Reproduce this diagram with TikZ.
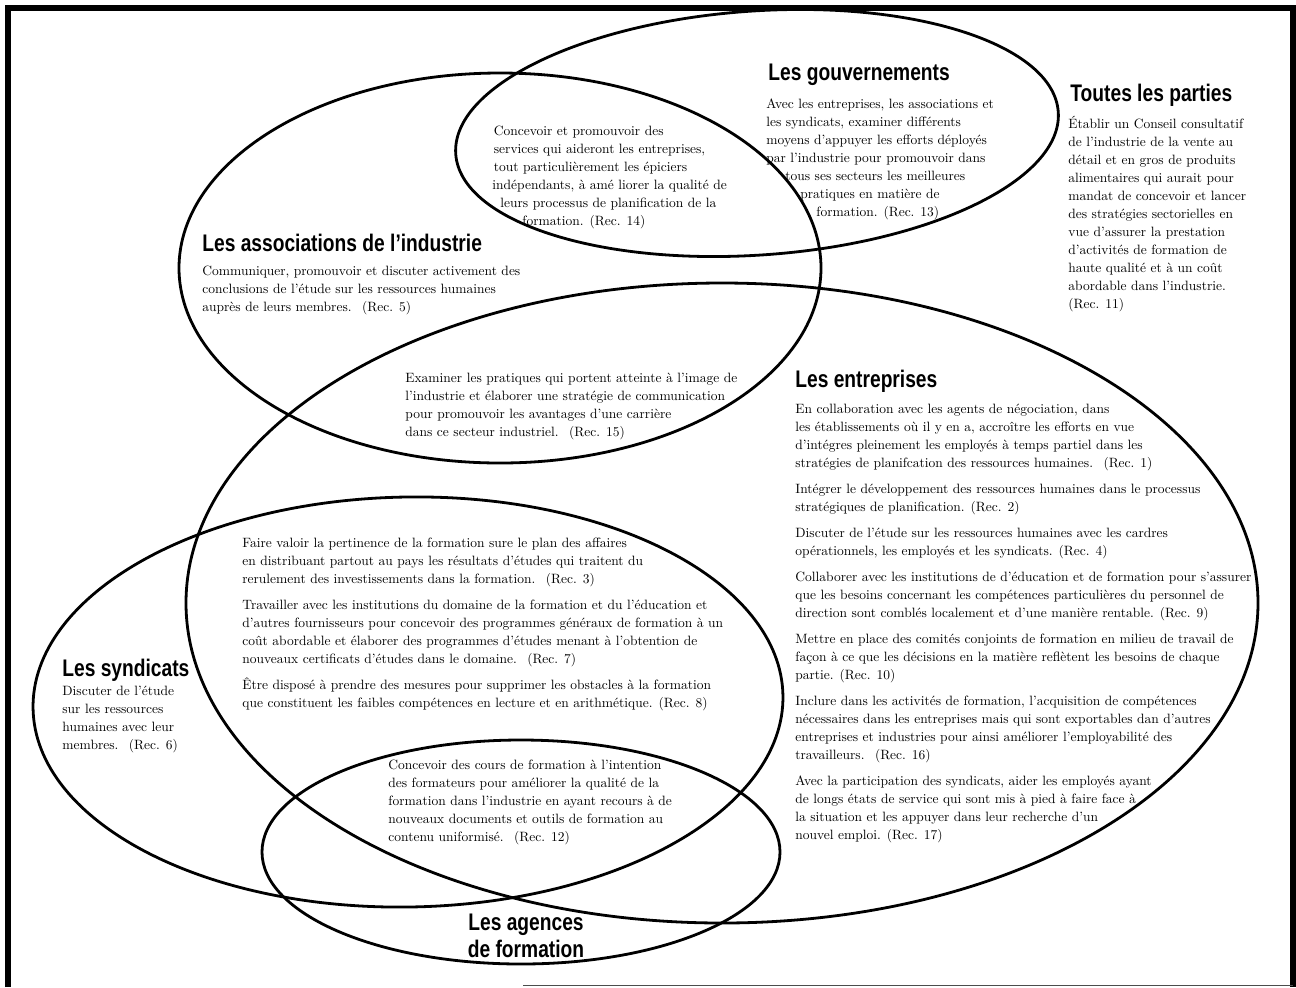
\documentclass[tikz,border=0pt]{standalone}
\usepackage{fontspec}
\newfontfamily\titlefont[FakeStretch=0.8]{Liberation Sans}
\newfontfamily\bodyfont{lmroman10-regular.otf}
\tikzset{
  ell/.style={line width=1.4pt},
  body/.style={anchor=north west, inner sep=0pt, align=left, font=\bodyfont\fontsize{6.75}{9}\selectfont},
  ttl/.style={anchor=west, inner sep=0pt, font=\titlefont\bfseries\fontsize{12}{14}\selectfont},
}
\begin{document}
\begin{tikzpicture}[x=0.5pt,y=-0.5pt]
\useasboundingbox (0,0) rectangle (1296,987);
% frame
\draw[line width=3pt] (8,987) -- (8,7.5) -- (1293,7.5) -- (1293,987);
\draw[line width=0.5pt, black!70] (523,985) -- (1293,985);
% ellipses
\draw[ell, rotate around={4:(757,133)}] (757,133) ellipse [x radius=302, y radius=122];
\draw[ell] (500,268) ellipse [x radius=321, y radius=195];
\draw[ell] (722,603) ellipse [x radius=536, y radius=320];
\draw[ell, rotate around={1:(408,702)}] (408,702) ellipse [x radius=375, y radius=205];
\draw[ell] (521,852) ellipse [x radius=259, y radius=112];
% titles
\node[ttl] (tgouv) at (768,75) {Les gouvernements};
\node[ttl] (ttout) at (1070,95) {Toutes les parties};
\node[ttl] (tassoc) at (202,243) {Les associations de l’industrie};
\node[ttl] (tentr) at (795,381) {Les entreprises};
\node[ttl] (tsynd) at (62,670) {Les syndicats};
\node[ttl, anchor=north, align=center, font=\titlefont\bfseries\fontsize{12}{13.5}\selectfont] (tagen) at (526,914) {Les agences\\de formation};
% bodies
\node[body] (r13) at (766,95) {\strut Avec les entreprises, les associations et\\
les syndicats, examiner différents\\
moyens d’appuyer les efforts déployés\\
par l’industrie pour promouvoir dans\\
\hspace*{9.5pt}tous ses secteurs les meilleures\\
\hspace*{17pt}pratiques en matière de\\
\hspace*{25pt}formation. (Rec. 13)};
\node[body] (r11) at (1068,115) {\strut Établir un Conseil consultatif\\
de l’industrie de la vente au\\
détail et en gros de produits\\
alimentaires qui aurait pour\\
mandat de concevoir et lancer\\
des stratégies sectorielles en\\
vue d’assurer la prestation\\
d’activités de formation de\\
haute qualité et à un coût\\
abordable dans l’industrie.\\
(Rec. 11)};
\node[body] (r14) at (492,122) {\strut\hspace*{0.75pt}Concevoir et promouvoir des\\
\hspace*{0.75pt}services qui aideront les entreprises,\\
\hspace*{0.75pt}tout particulièrement les épiciers\\
indépendants, à amé liorer la qualité de\\
\hspace*{4pt}leurs processus de planification de la\\
\hspace*{15pt}formation. (Rec. 14)};
\node[body] (r5) at (202,262) {\strut Communiquer, promouvoir et discuter activement des\\
conclusions de l’étude sur les ressources humaines\\
auprès de leurs membres.~ (Rec. 5)};
\node[body] (r15) at (405,369) {\strut Examiner les pratiques qui portent atteinte à l’image de\\
l’industrie et élaborer une stratégie de communication\\
pour promouvoir les avantages d’une carrière\\
dans ce secteur industriel.~ (Rec. 15)};
\node[body] (rentr) at (795,400) {\strut En collaboration avec les agents de négociation, dans\\
les établissements où il y en a, accroître les efforts en vue\\
d’intégres pleinement les employés à temps partiel dans les\\
stratégies de planifcation des ressources humaines.~ (Rec. 1)\\[4pt]
Intégrer le développement des ressources humaines dans le processus\\
stratégiques de planification. (Rec. 2)\\[4pt]
Discuter de l’étude sur les ressources humaines avec les cardres\\
opérationnels, les employés et les syndicats. (Rec. 4)\\[4pt]
Collaborer avec les institutions de d’éducation et de formation pour s’assurer\\
que les besoins concernant les compétences particulières du personnel de\\
direction sont comblés localement et d’une manière rentable. (Rec. 9)\\[4pt]
Mettre en place des comités conjoints de formation en milieu de travail de\\
façon à ce que les décisions en la matière reflètent les besoins de chaque\\
partie. (Rec. 10)\\[4pt]
Inclure dans les activités de formation, l’acquisition de compétences\\
nécessaires dans les entreprises mais qui sont exportables dan d’autres\\
entreprises et industries pour ainsi améliorer l’employabilité des\\
travailleurs.~ (Rec. 16)\\[4pt]
Avec la participation des syndicats, aider les employés ayant\\
de longs états de service qui sont mis à pied à faire face à\\
la situation et les appuyer dans leur recherche d’un\\
nouvel emploi. (Rec. 17)};
\node[body] (rsynentr) at (242,534) {\strut Faire valoir la pertinence de la formation sure le plan des affaires\\
en distribuant partout au pays les résultats d’études qui traitent du\\
rerulement des investissements dans la formation.~ (Rec. 3)\\[4pt]
Travailler avec les institutions du domaine de la formation et du l’éducation et\\
d’autres fournisseurs pour concevoir des programmes généraux de formation à un\\
coût abordable et élaborer des programmes d’études menant à l’obtention de\\
nouveaux certificats d’études dans le domaine.~ (Rec. 7)\\[4pt]
Être disposé à prendre des mesures pour supprimer les obstacles à la formation\\
que constituent les faibles compétences en lecture et en arithmétique. (Rec. 8)};
\node[body] (r6) at (62,682) {\strut Discuter de l’étude\\
sur les ressources\\
humaines avec leur\\
membres.~ (Rec. 6)};
\node[body] (r12) at (388,756) {\strut Concevoir des cours de formation à l’intention\\
des formateurs pour améliorer la qualité de la\\
formation dans l’industrie en ayant recours à de\\
nouveaux documents et outils de formation au\\
contenu uniformisé.~ (Rec. 12)};
\end{tikzpicture}
\end{document}
